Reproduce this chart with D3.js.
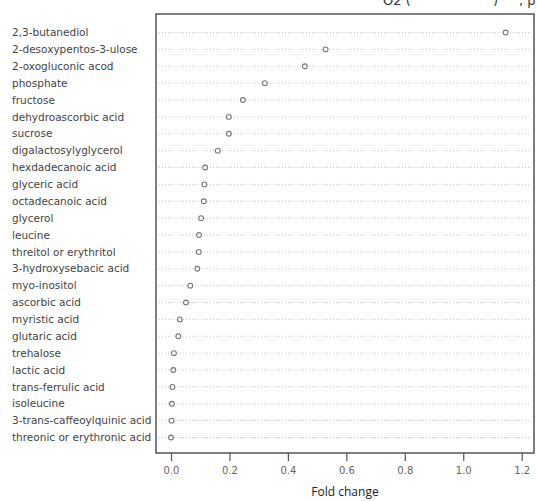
<!DOCTYPE html>
<html><head><meta charset="utf-8">
<script src="https://cdn.jsdelivr.net/npm/d3@7"></script>
<style>html,body{margin:0;padding:0;background:#fff;}svg{display:block;}</style>
</head><body>
<svg id="c" width="537" height="501"></svg>
<script>
const categories = ["2,3-butanediol","2-desoxypentos-3-ulose","2-oxogluconic acod","phosphate","fructose","dehydroascorbic acid","sucrose","digalactosylyglycerol","hexdadecanoic acid","glyceric acid","octadecanoic acid","glycerol","leucine","threitol or erythritol","3-hydroxysebacic acid","myo-inositol","ascorbic acid","myristic acid","glutaric acid","trehalose","lactic acid","trans-ferrulic acid","isoleucine","3-trans-caffeoylquinic acid","threonic or erythronic acid"];
const foldChange = [1.145,0.529,0.458,0.321,0.246,0.198,0.198,0.160,0.117,0.114,0.112,0.103,0.096,0.095,0.090,0.066,0.051,0.030,0.025,0.010,0.008,0.005,0.003,0.002,0.000];
const xTicks = [0,0.2,0.4,0.6,0.8,1.0,1.2];
const xLabel = "Fold change";

const svg = d3.select("#c");
const box = {l:156, r:534, t:14, b:453};
const x = d3.scaleLinear().domain([0,1.2]).range([171,521.7]);
const y = d3.scalePoint().domain(categories).range([32.5,437.5]);

// title fragments (cropped at top)
const tg = svg.append("g").attr("font-family","DejaVu Sans, sans-serif").attr("font-size",13).attr("fill","#333");
tg.append("text").attr("x",383).attr("y",5).text("O2 (");
tg.append("text").attr("x",493).attr("y",5).text(")");
tg.append("text").attr("x",519).attr("y",5).text(", p");

// dotted row lines
svg.append("g").selectAll("line").data(categories).join("line")
  .attr("x1",box.l+3).attr("x2",box.r-3)
  .attr("y1",d=>y(d)).attr("y2",d=>y(d))
  .attr("stroke","#c8c8c8").attr("stroke-width",1).attr("stroke-dasharray","1,2");

// labels
svg.append("g").attr("font-family","DejaVu Sans, sans-serif").attr("font-size",10.5).attr("fill","#444")
  .selectAll("text").data(categories).join("text")
  .attr("x",12).attr("y",d=>y(d)).attr("dy","0.35em").text(d=>d);

// box
svg.append("rect").attr("x",box.l).attr("y",box.t).attr("width",box.r-box.l).attr("height",box.b-box.t)
  .attr("fill","none").attr("stroke","#555").attr("stroke-width",1.5);

// points
svg.append("g").selectAll("circle").data(categories).join("circle")
  .attr("cx",(d,i)=>x(foldChange[i])).attr("cy",d=>y(d)).attr("r",2.4)
  .attr("fill","#fff").attr("stroke","#777").attr("stroke-width",1.1);

// axis
const ax = svg.append("g").attr("transform",`translate(0,${box.b})`)
  .call(d3.axisBottom(x).tickValues(xTicks).tickFormat(d3.format(".1f")).tickSize(8).tickPadding(6));
ax.select(".domain").remove();
ax.selectAll(".tick line").attr("stroke","#555").attr("stroke-width",1.2);
ax.selectAll(".tick text").attr("font-family","DejaVu Sans, sans-serif").attr("font-size",10).attr("fill","#666");

svg.append("text").attr("x",345).attr("y",496).attr("text-anchor","middle")
  .attr("font-family","Open Sans, sans-serif").attr("font-size",12).attr("fill","#222").text(xLabel);
</script>
</body></html>
